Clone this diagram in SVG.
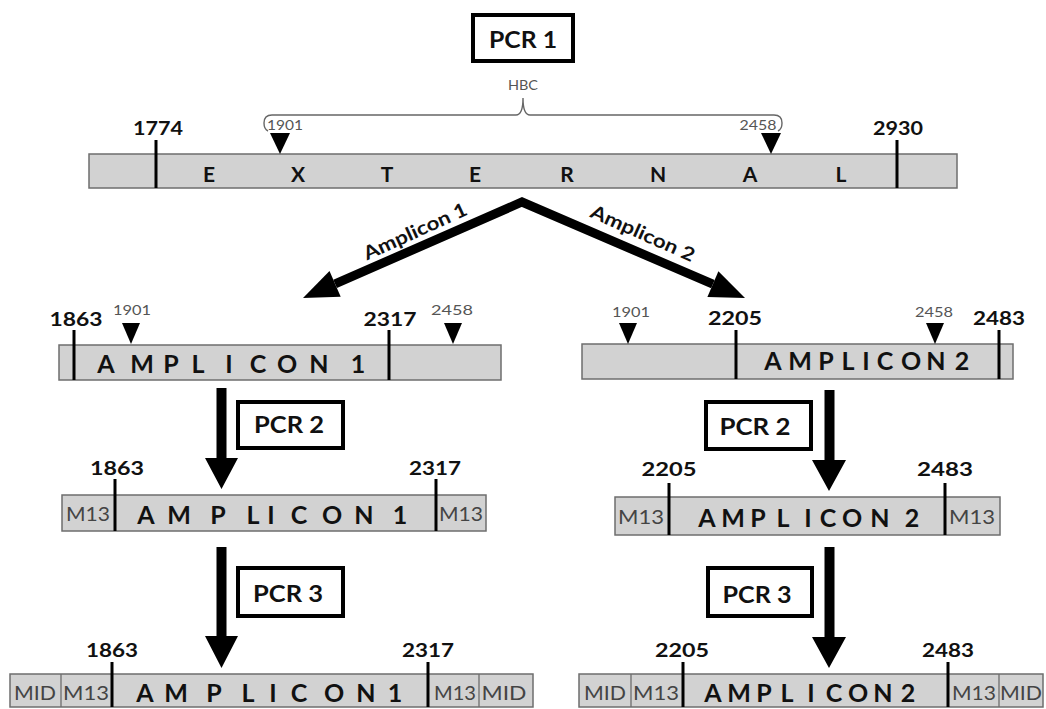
<svg xmlns="http://www.w3.org/2000/svg" width="1046" height="709" viewBox="0 0 1046 709">
<style>
.bg{fill:#fff}
.bar{fill:#d2d2d2;stroke:#6e6e6e;stroke-width:1.5}
.tick{stroke:#000;stroke-width:3}
.div{stroke:#6e6e6e;stroke-width:1.3}
.tri{fill:#000}
.num{font-family:Lato,"Open Sans",sans-serif;font-weight:bold;font-size:19px;fill:#111;text-anchor:middle}
.small{font-family:Lato,"Open Sans",sans-serif;font-size:14px;fill:#555;text-anchor:middle}
.big{font-family:Lato,"Open Sans",sans-serif;font-weight:bold;font-size:25px;fill:#111;text-anchor:middle}
.ext{font-family:Lato,"Open Sans",sans-serif;font-weight:bold;font-size:21px;fill:#111;text-anchor:middle}
.tag{font-family:Lato,"Open Sans",sans-serif;font-size:19px;fill:#444;text-anchor:middle}
.box{fill:#fff;stroke:#000;stroke-width:4}
.pcr{font-family:Lato,"Open Sans",sans-serif;font-weight:bold;font-size:22px;fill:#111;text-anchor:middle}
.lbl{font-family:Lato,"Open Sans",sans-serif;font-weight:bold;font-size:19px;fill:#111;text-anchor:middle}
.arw{fill:#000}
.brk{fill:none;stroke:#666;stroke-width:1.4}
</style>
<rect class="bg" x="0" y="0" width="1046" height="709"/>

<g id="connectors">
  <path d="M335.1,283.9 L522,202 L712.9,284.2" fill="none" stroke="#000" stroke-width="9" stroke-linejoin="miter"/>
  <polygon class="arw" points="303,298 329.5,271.1 340.7,296.7"/>
  <polygon class="arw" points="745,298 718.4,271.3 707.4,297.1"/>
  <path class="arw" d="M216.5,388 H226.5 V458 H238 L221.5,489 L205,458 H216.5 Z"/>
  <path class="arw" d="M824.5,390 H834.5 V460 H846 L829,491 L812,460 H824.5 Z"/>
  <path class="arw" d="M216.5,547 H226.5 V636 H238 L221.5,668 L205,636 H216.5 Z"/>
  <path class="arw" d="M824.5,547 H834.5 V637 H846 L829,668 L812,637 H824.5 Z"/>
  <g transform="translate(415,231) rotate(-24.5)"><text class="lbl" x="0" y="7" textLength="112" lengthAdjust="spacingAndGlyphs">Amplicon 1</text></g>
  <g transform="translate(643,233) rotate(24)"><text class="lbl" x="0" y="7" textLength="112" lengthAdjust="spacingAndGlyphs">Amplicon 2</text></g>
</g>

<g id="pcr1">
  <rect class="box" x="473" y="15" width="100" height="46"/>
  <text class="pcr" x="523" y="48" textLength="68" lengthAdjust="spacingAndGlyphs">PCR 1</text>
</g>

<g id="hbc">
  <text class="small" x="523" y="90" textLength="30" lengthAdjust="spacingAndGlyphs">HBC</text>
  <path class="brk" d="M268,131 Q264,129 264,123 Q264,115 272,115 L516,115 Q523,115 523,98 Q523,115 530,115 L774,115 Q782,115 782,123 Q782,129 778,131"/>
</g>

<g id="external">
  <rect class="bar" x="89" y="154" width="868" height="34"/>
  <line class="tick" x1="156" y1="140" x2="156" y2="188"/>
  <line class="tick" x1="897" y1="140" x2="897" y2="188"/>
  <polygon class="tri" points="270,133 290,133 280,154"/>
  <polygon class="tri" points="761,133 781,133 771,154"/>
  <text class="num" x="158" y="135" textLength="50" lengthAdjust="spacingAndGlyphs">1774</text>
  <text class="num" x="898" y="135" textLength="50" lengthAdjust="spacingAndGlyphs">2930</text>
  <text class="small" x="285" y="130" textLength="36" lengthAdjust="spacingAndGlyphs">1901</text>
  <text class="small" x="758" y="130" textLength="37" lengthAdjust="spacingAndGlyphs">2458</text>
  <text class="ext" x="209 298 387 475 567 658 750 841" y="182">EXTERNAL</text>
</g>

<g id="amplicon1">
  <rect class="bar" x="59" y="345" width="442" height="35"/>
  <line class="tick" x1="74" y1="330" x2="74" y2="380"/>
  <line class="tick" x1="389" y1="330" x2="389" y2="380"/>
  <polygon class="tri" points="122,323 140,323 131,344"/>
  <polygon class="tri" points="444,323 462,323 453,344"/>
  <text class="num" x="76" y="326" textLength="53" lengthAdjust="spacingAndGlyphs">1863</text>
  <text class="num" x="390" y="326" textLength="53" lengthAdjust="spacingAndGlyphs">2317</text>
  <text class="small" x="132" y="315" textLength="38" lengthAdjust="spacingAndGlyphs">1901</text>
  <text class="small" x="452" y="315" textLength="42" lengthAdjust="spacingAndGlyphs">2458</text>
  <text class="big" x="106 142 171 198 229 258 287 319 358" y="373">AMPLICON1</text>
</g>

<g id="amplicon2">
  <rect class="bar" x="582" y="344" width="431" height="35"/>
  <line class="tick" x1="736" y1="330" x2="736" y2="379"/>
  <line class="tick" x1="999" y1="330" x2="999" y2="379"/>
  <polygon class="tri" points="619,323 637,323 628,344"/>
  <polygon class="tri" points="926,323 944,323 935,344"/>
  <text class="num" x="735" y="325" textLength="54" lengthAdjust="spacingAndGlyphs">2205</text>
  <text class="num" x="999" y="325" textLength="52" lengthAdjust="spacingAndGlyphs">2483</text>
  <text class="small" x="631" y="317" textLength="38" lengthAdjust="spacingAndGlyphs">1901</text>
  <text class="small" x="934" y="317" textLength="38" lengthAdjust="spacingAndGlyphs">2458</text>
  <text class="big" x="773 800 826 848 866 885 911 936 962" y="370">AMPLICON2</text>
</g>

<g id="pcr2-left">
  <rect class="box" x="238" y="402" width="105" height="46"/>
  <text class="pcr" x="289" y="433" textLength="70" lengthAdjust="spacingAndGlyphs">PCR 2</text>
</g>
<g id="pcr2-right">
  <rect class="box" x="706" y="402" width="105" height="47"/>
  <text class="pcr" x="755" y="435" textLength="71" lengthAdjust="spacingAndGlyphs">PCR 2</text>
</g>

<g id="m13-amplicon1">
  <rect class="bar" x="62" y="495" width="424" height="36"/>
  <line class="tick" x1="115" y1="479" x2="115" y2="531"/>
  <line class="tick" x1="436" y1="479" x2="436" y2="531"/>
  <text class="num" x="117" y="475" textLength="54" lengthAdjust="spacingAndGlyphs">1863</text>
  <text class="num" x="435" y="475" textLength="52" lengthAdjust="spacingAndGlyphs">2317</text>
  <text class="tag" x="88" y="521" textLength="44" lengthAdjust="spacingAndGlyphs">M13</text>
  <text class="tag" x="461" y="521" textLength="44" lengthAdjust="spacingAndGlyphs">M13</text>
  <text class="big" x="146 179 218 253 271 299 332 364 400" y="524">AMPLICON1</text>
</g>

<g id="m13-amplicon2">
  <rect class="bar" x="615" y="497" width="385" height="38"/>
  <line class="tick" x1="669" y1="483" x2="669" y2="535"/>
  <line class="tick" x1="945" y1="483" x2="945" y2="535"/>
  <text class="num" x="669" y="476" textLength="55" lengthAdjust="spacingAndGlyphs">2205</text>
  <text class="num" x="945" y="476" textLength="56" lengthAdjust="spacingAndGlyphs">2483</text>
  <text class="tag" x="641" y="524" textLength="46" lengthAdjust="spacingAndGlyphs">M13</text>
  <text class="tag" x="972" y="524" textLength="46" lengthAdjust="spacingAndGlyphs">M13</text>
  <text class="big" x="707 733 758 783 808 828 852 880 912" y="527">AMPLICON2</text>
</g>

<g id="pcr3-left">
  <rect class="box" x="238" y="568" width="105" height="48"/>
  <text class="pcr" x="288" y="602" textLength="70" lengthAdjust="spacingAndGlyphs">PCR 3</text>
</g>
<g id="pcr3-right">
  <rect class="box" x="708" y="568" width="104" height="48"/>
  <text class="pcr" x="757" y="603" textLength="69" lengthAdjust="spacingAndGlyphs">PCR 3</text>
</g>

<g id="mid-amplicon1">
  <rect class="bar" x="10" y="674" width="523" height="33"/>
  <line class="div" x1="61" y1="674" x2="61" y2="707"/>
  <line class="div" x1="479" y1="674" x2="479" y2="707"/>
  <line class="tick" x1="112" y1="662" x2="112" y2="707"/>
  <line class="tick" x1="428" y1="662" x2="428" y2="707"/>
  <text class="num" x="112" y="657" textLength="52" lengthAdjust="spacingAndGlyphs">1863</text>
  <text class="num" x="428" y="657" textLength="52" lengthAdjust="spacingAndGlyphs">2317</text>
  <text class="tag" x="35" y="700" textLength="42" lengthAdjust="spacingAndGlyphs">MID</text>
  <text class="tag" x="86" y="700" textLength="46" lengthAdjust="spacingAndGlyphs">M13</text>
  <text class="tag" x="455" y="700" textLength="42" lengthAdjust="spacingAndGlyphs">M13</text>
  <text class="tag" x="504" y="700" textLength="45" lengthAdjust="spacingAndGlyphs">MID</text>
  <text class="big" x="145 176 214 248 273 299 334 366 395" y="702">AMPLICON1</text>
</g>

<g id="mid-amplicon2">
  <rect class="bar" x="579" y="674" width="464" height="33"/>
  <line class="div" x1="631" y1="674" x2="631" y2="707"/>
  <line class="div" x1="999" y1="674" x2="999" y2="707"/>
  <line class="tick" x1="683" y1="662" x2="683" y2="707"/>
  <line class="tick" x1="948" y1="662" x2="948" y2="707"/>
  <text class="num" x="682" y="657" textLength="54" lengthAdjust="spacingAndGlyphs">2205</text>
  <text class="num" x="948" y="657" textLength="52" lengthAdjust="spacingAndGlyphs">2483</text>
  <text class="tag" x="605" y="700" textLength="42" lengthAdjust="spacingAndGlyphs">MID</text>
  <text class="tag" x="656" y="700" textLength="46" lengthAdjust="spacingAndGlyphs">M13</text>
  <text class="tag" x="974" y="700" textLength="44" lengthAdjust="spacingAndGlyphs">M13</text>
  <text class="tag" x="1021" y="700" textLength="42" lengthAdjust="spacingAndGlyphs">MID</text>
  <text class="big" x="713 739 764 787 811 834 858 883 908" y="702">AMPLICON2</text>
</g>
</svg>
